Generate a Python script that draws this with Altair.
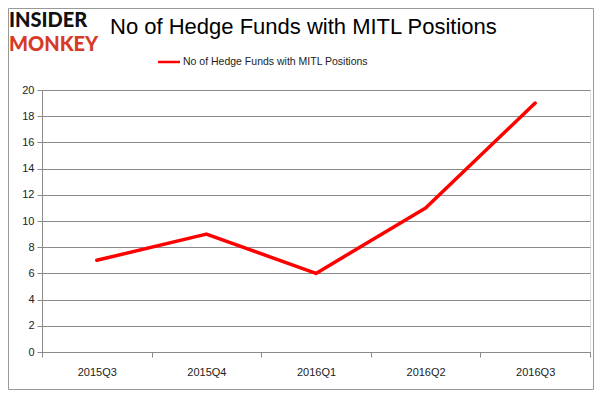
import json
import altair as alt
import pandas as pd

quarters = ["2015Q3", "2015Q4", "2016Q1", "2016Q2", "2016Q3"]
funds = [7, 9, 6, 11, 19]
y_ticks = [0, 2, 4, 6, 8, 10, 12, 14, 16, 18, 20]
series_name = "No of Hedge Funds with MITL Positions"
title_text = "No of Hedge Funds with MITL Positions"

df = pd.DataFrame({"idx": list(range(len(quarters))), "quarter": quarters, "funds": funds})

boundaries = [i - 0.5 for i in range(len(quarters) + 1)]
label_expr = f"datum.value < {len(quarters) - 1} ? {json.dumps(quarters)}[round(datum.value + 0.5)] : ''"

W, H = 548, 262
band = W / len(quarters)
GRID = "#8a8a8a"

line = alt.Chart(df).mark_line(color="#ff0000", strokeWidth=3.5, strokeCap="round", strokeJoin="round").encode(
    x=alt.X("idx:Q",
            scale=alt.Scale(domain=[-0.5, len(quarters) - 0.5], nice=False, zero=False),
            axis=alt.Axis(values=boundaries, labelExpr=label_expr, labelOffset=band / 2,
                          labelOverlap=False, labelFlush=False, grid=False, title=None,
                          tickSize=5, tickColor=GRID, domainColor=GRID,
                          labelPadding=9, labelFontSize=11, labelColor="#222222",
                          labelFont="Liberation Sans")),
    y=alt.Y("funds:Q",
            scale=alt.Scale(domain=[0, 20], nice=False),
            axis=alt.Axis(values=y_ticks, grid=True, gridColor=GRID, title=None,
                          tickSize=5, tickColor=GRID, domainColor=GRID,
                          labelPadding=3, labelFontSize=11, labelColor="#222222",
                          labelFont="Liberation Sans")),
)

def text_layer(txt, x, y, size, color="#000000", weight="normal", font="Liberation Sans", baseline="middle"):
    return alt.Chart(pd.DataFrame({"t": [txt]})).mark_text(
        align="left", baseline=baseline, fontSize=size, color=color, fontWeight=weight, font=font
    ).encode(text="t:N", x=alt.value(x), y=alt.value(y))

logo1 = text_layer("INSIDER", -33, -63, 20, "#111111", 900, "Lato", "alphabetic")
logo2 = text_layer("MONKEY", -33, -39, 20, "#d63b27", 900, "Lato", "alphabetic")
title = text_layer(title_text, 68, -63, 22, "#000000")
legend_text = text_layer(series_name, 141, -28, 10.5, "#222222")

legend_line = alt.Chart(pd.DataFrame({"s": [series_name]})).mark_rule(color="#ff0000", strokeWidth=2.5).encode(
    x=alt.value(116), x2=alt.value(138), y=alt.value(-28)
)

border = alt.Chart(pd.DataFrame({"b": [1]})).mark_rect(fill=None, stroke="#999999", strokeWidth=1).encode(
    x=alt.value(-33.5), x2=alt.value(551.5), y=alt.value(-81.5), y2=alt.value(299.5)
)

chart = alt.layer(border, line, logo1, logo2, title, legend_line, legend_text).properties(
    width=W, height=H,
    autosize=alt.AutoSizeParams(type="none"),
    padding={"left": 34, "top": 82, "right": 4, "bottom": 38},
).configure_view(stroke=None).configure(background="white")

chart.save("out.html", embed_options={"renderer": "svg", "actions": False})
